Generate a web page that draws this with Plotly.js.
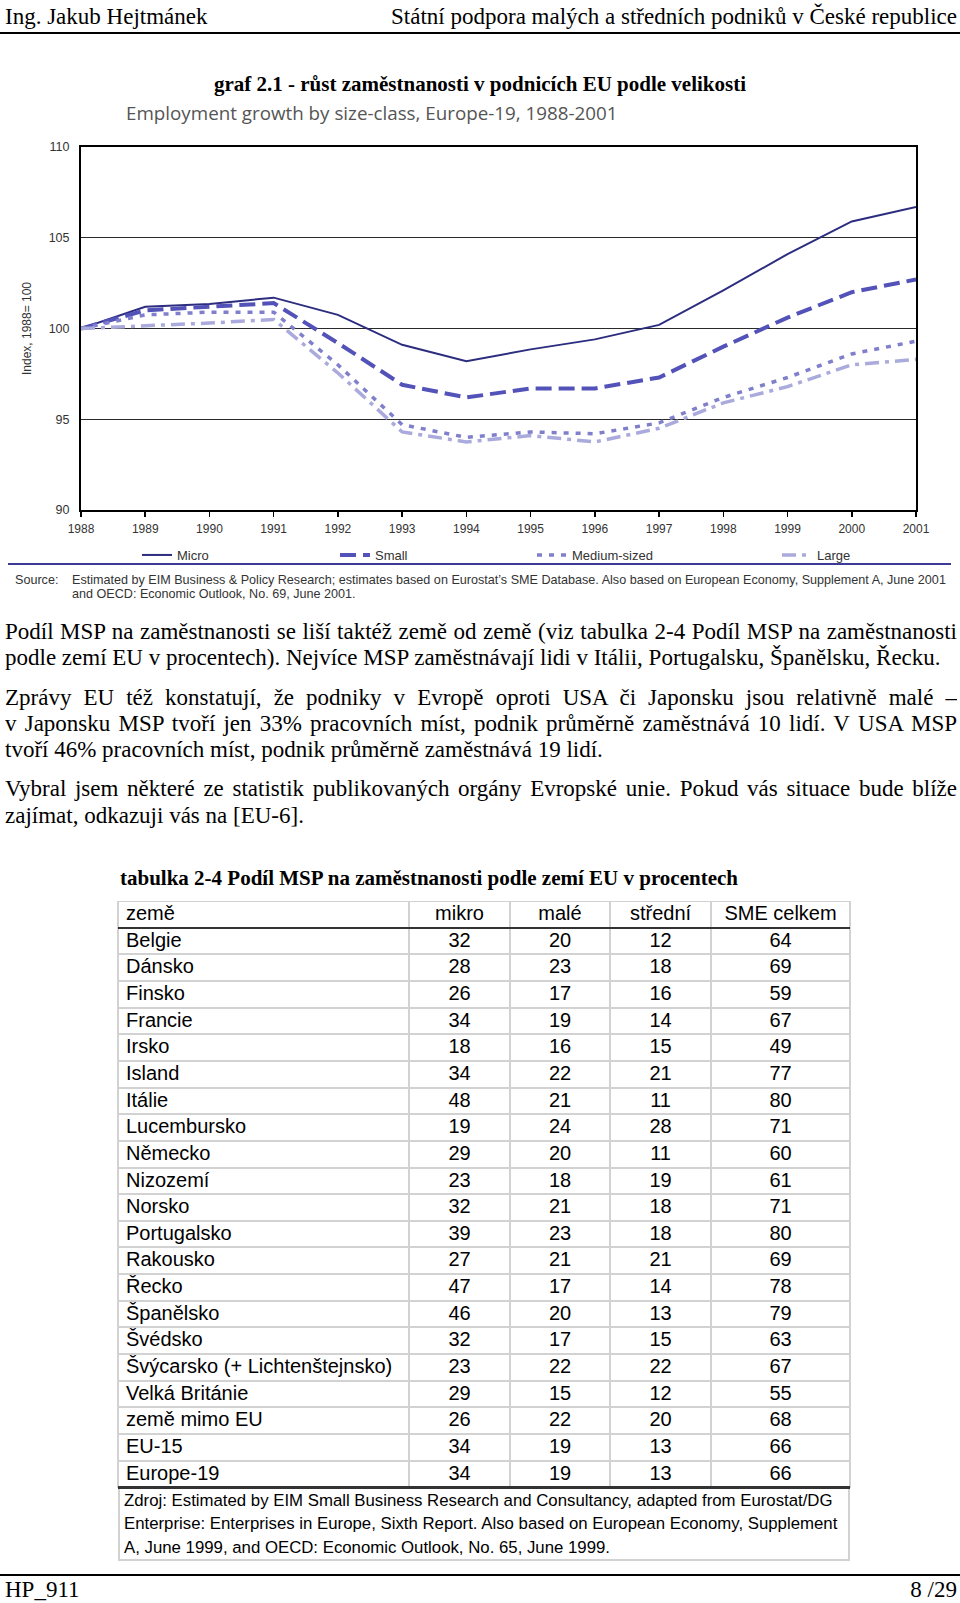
<!DOCTYPE html>
<html><head><meta charset="utf-8">
<script src="https://cdn.plot.ly/plotly-3.0.1.min.js"></script>
<style>
html,body{margin:0;padding:0;background:#fff;}
body{width:960px;height:1603px;position:relative;overflow:hidden;font-family:"Liberation Serif","Times New Roman",serif;color:#000;}
.abs{position:absolute;white-space:nowrap;}
.pl{position:absolute;left:5px;width:952px;height:26px;line-height:26px;font-size:23px;overflow:hidden;}
.j{text-align:justify;text-align-last:justify;}
.rule{position:absolute;background:#000;}
#chart{position:absolute;left:0;top:95px;width:960px;height:515px;}
#tbl{position:absolute;left:0;top:901px;width:960px;height:590px;}
#tbl .cell-text{transform:translateY(-4px);}
.thick{position:absolute;left:118px;width:732px;height:2.5px;background:#333;z-index:5;}
#zdroj{position:absolute;left:118px;top:1487px;width:728px;height:72px;border:2px solid #d2d2d2;border-top:none;font-family:"Liberation Sans",Arial,sans-serif;font-size:16.8px;}
#zdroj div{position:absolute;left:4px;height:23px;line-height:23px;white-space:nowrap;}
</style></head>
<body>
<div class="abs" style="left:5px;top:3px;font-size:23px;line-height:28px;">Ing. Jakub Hejtmánek</div>
<div class="abs" style="right:3px;top:3px;font-size:23px;line-height:28px;">Státní podpora malých a středních podniků v České republice</div>
<div class="rule" style="left:0;top:32px;width:960px;height:2px;"></div>
<div class="abs" style="left:0;width:960px;top:71px;text-align:center;font-weight:bold;font-size:21px;line-height:26px;">graf 2.1 - růst zaměstnanosti v podnicích EU podle velikosti</div>

<div id="chart"></div>

<div class="pl j" style="top:619px;">Podíl MSP na zaměstnanosti se liší taktéž země od země (viz tabulka 2-4 Podíl MSP na zaměstnanosti</div>
<div class="pl" style="top:645px;">podle zemí EU v procentech). Nejvíce MSP zaměstnávají lidi v Itálii, Portugalsku, Španělsku, Řecku.</div>
<div class="pl j" style="top:685px;">Zprávy EU též konstatují, že podniky v&nbsp;Evropě oproti USA či Japonsku jsou relativně malé –</div>
<div class="pl j" style="top:711px;">v&nbsp;Japonsku MSP tvoří jen 33% pracovních míst, podnik průměrně zaměstnává 10 lidí. V&nbsp;USA MSP</div>
<div class="pl" style="top:737px;">tvoří 46% pracovních míst, podnik průměrně zaměstnává 19 lidí.</div>
<div class="pl j" style="top:776px;">Vybral jsem některé ze statistik publikovaných orgány Evropské unie. Pokud vás situace bude blíže</div>
<div class="pl" style="top:803px;">zajímat, odkazuji vás na [EU-6].</div>

<div class="abs" style="left:120px;top:865px;font-weight:bold;font-size:21px;line-height:26px;">tabulka 2-4 Podíl MSP na zaměstnanosti podle zemí EU v procentech</div>

<div id="tbl"></div>
<div class="thick" style="top:926.5px;"></div>
<div class="thick" style="top:1486px;"></div>
<div id="zdroj">
<div style="top:2px;">Zdroj: Estimated by EIM Small Business Research and Consultancy, adapted from Eurostat/DG</div>
<div style="top:25px;">Enterprise: Enterprises in Europe, Sixth Report. Also based on European Economy, Supplement</div>
<div style="top:49px;">A, June 1999, and OECD: Economic Outlook, No. 65, June 1999.</div>
</div>

<div class="rule" style="left:0;top:1574px;width:960px;height:2px;"></div>
<div class="abs" style="left:5px;top:1577px;font-size:23px;line-height:26px;">HP_911</div>
<div class="abs" style="right:3px;top:1577px;font-size:23px;line-height:26px;">8 /29</div>

<script>
// ---------- chart data ----------
const years = [1988,1989,1990,1991,1992,1993,1994,1995,1996,1997,1998,1999,2000,2001];
const micro  = [100,101.2,101.35,101.7,100.75,99.1,98.2,98.85,99.4,100.2,102.1,104.1,105.9,106.7];
const small  = [100,101.0,101.2,101.4,99.2,96.9,96.2,96.7,96.7,97.3,99.0,100.6,102.0,102.7];
const medium = [100,100.75,100.9,100.9,98.0,94.7,94.0,94.3,94.2,94.8,96.2,97.3,98.6,99.3];
const large  = [100,100.15,100.3,100.5,97.55,94.3,93.75,94.1,93.75,94.5,95.9,96.8,98.0,98.3];
const seriesNames = ['Micro','Small','Medium-sized','Large'];
const yTicks = [90,95,100,105,110];

// ---------- table data ----------
const tableHeader = ['země','mikro','malé','střední','SME celkem'];
const countries = ['Belgie','Dánsko','Finsko','Francie','Irsko','Island','Itálie','Lucembursko','Německo','Nizozemí','Norsko','Portugalsko','Rakousko','Řecko','Španělsko','Švédsko','Švýcarsko (+ Lichtenštejnsko)','Velká Británie','země mimo EU','EU-15','Europe-19'];
const mikro   = [32,28,26,34,18,34,48,19,29,23,32,39,27,47,46,32,23,29,26,34,34];
const male    = [20,23,17,19,16,22,21,24,20,18,21,23,21,17,20,17,22,15,22,19,19];
const stredni = [12,18,16,14,15,21,11,28,11,19,18,18,21,14,13,15,22,12,20,13,13];
const smeCelkem = [64,69,59,67,49,77,80,71,60,61,71,80,69,78,79,63,67,55,68,66,66];

// ---------- chart ----------
const TOP = 95, ML = 81, MR = 44, MT = 52, MB = 100, CW = 960, CH = 515;
const PW = CW - ML - MR, PH = CH - MT - MB;
const fx = px => (px - ML) / PW;
const fy = py => ((TOP + MT + PH) - py) / PH;
const smallFont = 'Liberation Sans, Arial, sans-serif';

const styles = [
  {color:'#2d2d80', width:2,   dash:'solid'},
  {color:'#5252b8', width:4,   dash:'16px,7px'},
  {color:'#7f7fcc', width:3.5, dash:'5px,7px'},
  {color:'#aaaadc', width:3.5, dash:'14px,6px,4px,6px'}
];
const allSeries = [micro, small, medium, large];
const legendIds = ['legend','legend2','legend3','legend4'];
const traces = allSeries.map((s,i) => ({
  type:'scatter', mode:'lines', x:years, y:s, name:seriesNames[i],
  line:Object.assign({}, styles[i]), legend:legendIds[i], hoverinfo:'skip', showlegend:true
}));

const legendStarts = [137, 335, 532, 777];
const legendCommon = i => ({
  orientation:'h', x:fx(legendStarts[i]), xanchor:'left', y:fy(555), yanchor:'middle',
  bgcolor:'rgba(0,0,0,0)', borderwidth:0,
  font:{family:smallFont, size:13, color:'#333'}
});

const layout = {
  width:CW, height:CH, showlegend:true,
  margin:{l:ML, r:MR, t:MT, b:MB},
  paper_bgcolor:'rgba(0,0,0,0)', plot_bgcolor:'#fff',
  font:{family:smallFont, color:'#333'},
  xaxis:{range:[1988,2001], tickvals:years, ticks:'outside', ticklen:5, tickwidth:1.5, tickcolor:'#000',
         showline:true, linecolor:'#000', linewidth:2, mirror:true, showgrid:false, zeroline:false,
         tickfont:{size:12, color:'#333'}, ticklabelstandoff:2},
  yaxis:{range:[90,110], tickvals:yTicks, ticks:'', showline:true, linecolor:'#000', linewidth:2, mirror:true,
         showgrid:true, gridcolor:'#2a2a2a', gridwidth:1.4, zeroline:false,
         tickfont:{size:12.5, color:'#333'}, ticklabelstandoff:7,
         title:{text:'Index, 1988= 100', font:{size:12, color:'#333'}, standoff:14}},
  legend:legendCommon(0), legend2:legendCommon(1), legend3:legendCommon(2), legend4:legendCommon(3),
  shapes:[{type:'line', xref:'paper', yref:'paper', x0:fx(8), x1:fx(951), y0:fy(564), y1:fy(564),
           line:{color:'#3c3c96', width:2}}],
  annotations:[
    {text:'Employment growth by size-class, Europe-19, 1988-2001', xref:'paper', yref:'paper',
     x:fx(124), y:fy(113), xanchor:'left', yanchor:'middle', showarrow:false,
     font:{family:'Open Sans, sans-serif', size:18.8, color:'#555'}},
    {text:'Source:', xref:'paper', yref:'paper', x:fx(13), y:fy(580), xanchor:'left', yanchor:'middle',
     showarrow:false, font:{family:smallFont, size:12.6, color:'#333'}},
    {text:'Estimated by EIM Business &amp; Policy Research; estimates based on Eurostat\u2019s SME Database. Also based on European Economy, Supplement A, June 2001',
     xref:'paper', yref:'paper', x:fx(70), y:fy(580), xanchor:'left', yanchor:'middle',
     showarrow:false, font:{family:smallFont, size:12.6, color:'#333'}},
    {text:'and OECD: Economic Outlook, No. 69, June 2001.',
     xref:'paper', yref:'paper', x:fx(70), y:fy(594), xanchor:'left', yanchor:'middle',
     showarrow:false, font:{family:smallFont, size:12.6, color:'#333'}}
  ]
};
Plotly.newPlot('chart', traces, layout, {staticPlot:true, displayModeBar:false});

// ---------- table ----------
const cellFont = {family:'Liberation Sans, Arial, sans-serif', size:20, color:'#000'};
const aligns = ['left','center','center','center','center'];
const rowH = 26.65;
Plotly.newPlot('tbl', [{
  type:'table',
  domain:{x:[118/960, 850/960], y:[0,1]},
  columnwidth:[291,101,100,101,139],
  header:{values:tableHeader.map(h=>[h]), align:aligns, font:cellFont, height:rowH,
          fill:{color:'#fff'}, line:{color:'#d2d2d2', width:2}},
  cells:{values:[countries, mikro, male, stredni, smeCelkem], align:aligns, font:cellFont, height:rowH,
         fill:{color:'#fff'}, line:{color:'#d2d2d2', width:2}}
}], {width:960, height:590, margin:{l:0,r:0,t:0,b:0}, paper_bgcolor:'rgba(0,0,0,0)'},
{staticPlot:true, displayModeBar:false});
</script>
</body></html>
